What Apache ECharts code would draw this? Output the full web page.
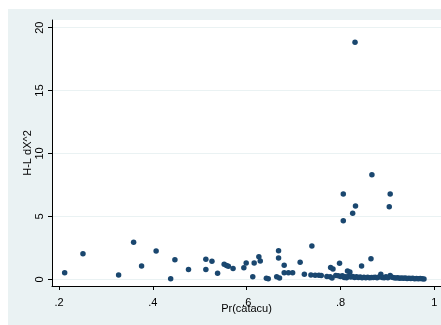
<!DOCTYPE html>
<html>
<head>
<meta charset="utf-8">
<script src="https://cdn.jsdelivr.net/npm/echarts@6/dist/echarts.min.js"></script>
<style>html,body{margin:0;padding:0;background:#fff;}#c{width:441px;height:325px;}</style>
</head>
<body>
<div id="c"></div>
<script>
const xTicks = [0.2, 0.4, 0.6, 0.8, 1];
const xTickLabels = ['.2', '.4', '.6', '.8', '1'];
const yTicks = [0, 5, 10, 15, 20];
const xTitle = 'Pr(catacu)';
const yTitle = 'H-L dX^2';

const pr = [
  0.212, 0.251, 0.327, 0.359, 0.376, 0.407, 0.438, 0.447, 0.476, 0.513,
  0.513, 0.526, 0.538, 0.552, 0.557, 0.561, 0.571, 0.594, 0.599, 0.613,
  0.616, 0.626, 0.629, 0.642, 0.646, 0.664, 0.670, 0.668, 0.668, 0.680,
  0.680, 0.689, 0.698, 0.714, 0.723, 0.737, 0.739, 0.746, 0.754, 0.759,
  0.771, 0.778, 0.779, 0.784, 0.782, 0.790, 0.795, 0.798, 0.806, 0.806,
  0.808, 0.813, 0.815, 0.820, 0.826, 0.831, 0.832, 0.845, 0.865, 0.867,
  0.886, 0.904, 0.906, 0.906,
  0.800, 0.804, 0.810, 0.817, 0.822, 0.826, 0.830, 0.834, 0.838, 0.842,
  0.846, 0.850, 0.854, 0.858, 0.862, 0.866, 0.870, 0.874, 0.878, 0.882,
  0.889, 0.893, 0.897, 0.901, 0.910, 0.914, 0.918, 0.922, 0.926, 0.930,
  0.934, 0.938, 0.942, 0.946, 0.950, 0.954, 0.958, 0.962, 0.966, 0.970,
  0.974, 0.978
];
const dx2 = [
  0.52, 2.03, 0.34, 2.94, 1.06, 2.25, 0.05, 1.56, 0.79, 1.59,
  0.79, 1.43, 0.48, 1.19, 1.10, 1.03, 0.87, 0.92, 1.30, 0.21,
  1.30, 1.80, 1.45, 0.08, 0.05, 0.21, 0.10, 2.27, 1.69, 1.11,
  0.52, 0.52, 0.52, 1.35, 0.40, 0.34, 2.65, 0.32, 0.32, 0.30,
  0.22, 0.20, 0.95, 0.82, 0.10, 0.30, 0.28, 1.27, 6.78, 4.66,
  0.15, 0.12, 0.66, 0.58, 5.25, 18.84, 5.83, 1.06, 1.64, 8.32,
  0.40, 5.77, 6.78, 0.30,
  0.22, 0.28, 0.20, 0.25, 0.18, 0.22, 0.15, 0.20, 0.14, 0.18,
  0.12, 0.16, 0.13, 0.17, 0.12, 0.15, 0.14, 0.16, 0.12, 0.18,
  0.15, 0.13, 0.20, 0.12, 0.16, 0.12, 0.10, 0.13, 0.09, 0.11,
  0.08, 0.10, 0.07, 0.09, 0.06, 0.08, 0.05, 0.07, 0.05, 0.06,
  0.04, 0.03
];

const points = pr.map((x, i) => [x, dx2[i]]);
const font = 'Liberation Sans, Arial, sans-serif';

const chart = echarts.init(document.getElementById('c'), null, {renderer: 'canvas'});
chart.setOption({
  animation: false,
  backgroundColor: '#ffffff',
  graphic: [{
    type: 'rect', z: -10, silent: true,
    shape: {x: 8, y: 9, width: 433, height: 316},
    style: {fill: '#eaf2f3'}
  }],
  grid: {
    left: 52, top: 20, right: 0, bottom: 39,
    show: true, backgroundColor: '#ffffff', borderWidth: 0
  },
  xAxis: {
    type: 'value', min: 0.185, max: 1.0143,
    name: xTitle, nameLocation: 'middle', nameGap: 17, nameMoveOverlap: false,
    nameTextStyle: {fontFamily: font, fontSize: 11, color: '#000'},
    axisLine: {show: true, onZero: false, lineStyle: {color: '#000', width: 1}},
    axisTick: {show: true, length: 4, customValues: xTicks, lineStyle: {color: '#000'}},
    axisLabel: {
      customValues: xTicks, margin: 11, fontFamily: font, fontSize: 11, color: '#000',
      formatter: v => xTickLabels[xTicks.findIndex(t => Math.abs(t - v) < 1e-9)] || ''
    },
    splitLine: {show: false}
  },
  yAxis: {
    type: 'value', min: -0.53, max: 20.61,
    name: yTitle, nameLocation: 'middle', nameGap: 19, nameRotate: 90, nameMoveOverlap: false,
    nameTextStyle: {fontFamily: font, fontSize: 11, color: '#000'},
    axisLine: {show: true, onZero: false, lineStyle: {color: '#000', width: 1}},
    axisTick: {show: true, length: 4, customValues: yTicks, lineStyle: {color: '#000'}},
    axisLabel: {customValues: yTicks, rotate: 90, margin: 7, fontFamily: font, fontSize: 11, color: '#000'},
    splitLine: {show: true, lineStyle: {color: '#eaf2f3', width: 1}}
  },
  series: [{
    type: 'scatter',
    data: points,
    symbol: 'circle',
    symbolSize: 5.5,
    itemStyle: {color: '#1a476f', opacity: 1},
    clip: false
  }]
});
</script>
</body>
</html>
